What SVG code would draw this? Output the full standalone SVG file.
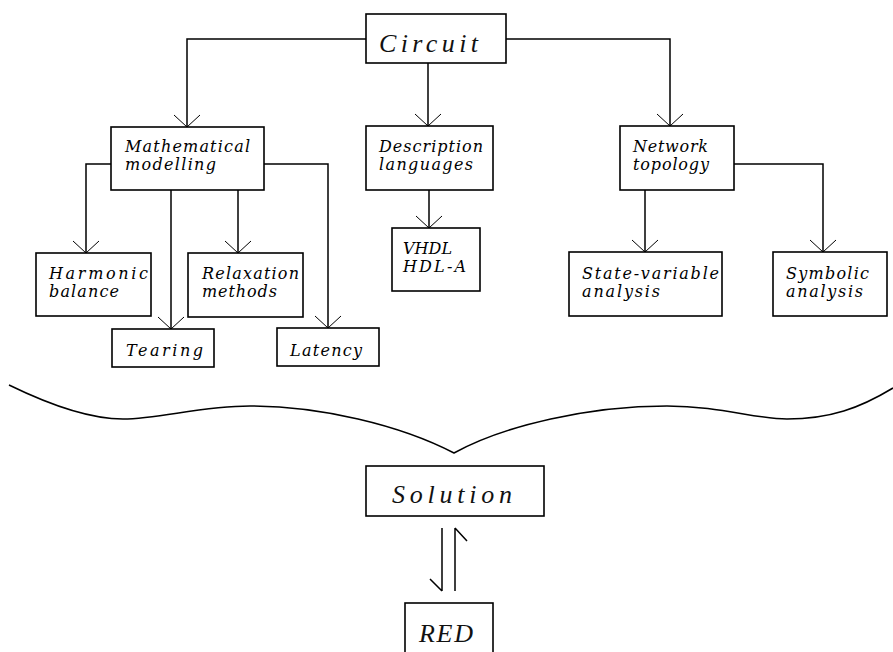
<svg xmlns="http://www.w3.org/2000/svg" width="893" height="652" viewBox="0 0 893 652">
<defs>
<style>
.box{fill:#fff;stroke:#000;stroke-width:1.6}
.ln{fill:none;stroke:#000;stroke-width:1.5}
.lbl{font-family:"DejaVu Serif","Liberation Serif",serif;font-style:italic;font-size:16px;fill:#000}
.big{font-family:"Liberation Serif","DejaVu Serif",serif;font-style:italic;font-size:26px;fill:#111}
</style>
<marker id="ah" markerUnits="userSpaceOnUse" markerWidth="30" markerHeight="30" viewBox="-14 -15 16 30" refX="0" refY="0" orient="auto" overflow="visible">
<path d="M-12,-13 L0,0 L-12,13" fill="none" stroke="#000" stroke-width="1"/>
</marker>
</defs>
<rect width="893" height="652" fill="#fff"/>
<g id="connectors">
<path class="ln" d="M366,39 H187 V127" marker-end="url(#ah)"/>
<path class="ln" d="M428,63 V126" marker-end="url(#ah)"/>
<path class="ln" d="M506,39 H670 V126" marker-end="url(#ah)"/>
<path class="ln" d="M111,164 H86 V253" marker-end="url(#ah)"/>
<path class="ln" d="M171,190 V329" marker-end="url(#ah)"/>
<path class="ln" d="M238,190 V253" marker-end="url(#ah)"/>
<path class="ln" d="M264,164 H328 V328" marker-end="url(#ah)"/>
<path class="ln" d="M429,190 V228" marker-end="url(#ah)"/>
<path class="ln" d="M645,190 V252" marker-end="url(#ah)"/>
<path class="ln" d="M734,164 H823 V252" marker-end="url(#ah)"/>
<path id="brace" class="ln" d="M9,385 C50,405 90,419 123,419 C160,419 200,406 250,406 C320,406 400,425 454,453 C505,425 590,406 667,406 C720,406 755,419 787,419 C830,419 860,408 893,388"/>
<path class="ln" d="M442,528 V591 M430,579 L442,591"/>
<path class="ln" d="M455,591 V528 M467,541 L455,528"/>
</g>
<g id="circuit">
<rect class="box" x="366" y="14" width="140" height="49"/>
<text class="big" x="379" y="52" textLength="99" lengthAdjust="spacing">Circuit</text>
</g>
<g id="math">
<rect class="box" x="111" y="127" width="153" height="63"/>
<text class="lbl" x="125" y="152" textLength="125" lengthAdjust="spacing">Mathematical</text>
<text class="lbl" x="125" y="170" textLength="91" lengthAdjust="spacing">modelling</text>
</g>
<g id="description">
<rect class="box" x="366" y="126" width="127" height="64"/>
<text class="lbl" x="379" y="152" textLength="104" lengthAdjust="spacing">Description</text>
<text class="lbl" x="379" y="170" textLength="94" lengthAdjust="spacing">languages</text>
</g>
<g id="network">
<rect class="box" x="620" y="126" width="114" height="64"/>
<text class="lbl" x="633" y="152" textLength="75" lengthAdjust="spacing">Network</text>
<text class="lbl" x="633" y="170" textLength="76" lengthAdjust="spacing">topology</text>
</g>
<g id="harmonic">
<rect class="box" x="36" y="253" width="115" height="63"/>
<text class="lbl" x="49" y="279" textLength="99" lengthAdjust="spacing">Harmonic</text>
<text class="lbl" x="49" y="297" textLength="70" lengthAdjust="spacing">balance</text>
</g>
<g id="relaxation">
<rect class="box" x="188" y="253" width="115" height="64"/>
<text class="lbl" x="202" y="279" textLength="97" lengthAdjust="spacing">Relaxation</text>
<text class="lbl" x="202" y="297" textLength="75" lengthAdjust="spacing">methods</text>
</g>
<g id="tearing">
<rect class="box" x="112" y="329" width="102" height="38"/>
<text class="lbl" x="126" y="356" textLength="77" lengthAdjust="spacing">Tearing</text>
</g>
<g id="latency">
<rect class="box" x="277" y="328" width="102" height="38"/>
<text class="lbl" x="290" y="356" textLength="72" lengthAdjust="spacing">Latency</text>
</g>
<g id="vhdl">
<rect class="box" x="392" y="228" width="88" height="63"/>
<text class="lbl" x="403" y="254" textLength="49" lengthAdjust="spacing">VHDL</text>
<text class="lbl" x="403" y="272" textLength="63" lengthAdjust="spacing">HDL-A</text>
</g>
<g id="state">
<rect class="box" x="569" y="252" width="153" height="64"/>
<text class="lbl" x="582" y="279" textLength="137" lengthAdjust="spacing">State-variable</text>
<text class="lbl" x="582" y="297" textLength="78" lengthAdjust="spacing">analysis</text>
</g>
<g id="symbolic">
<rect class="box" x="773" y="252" width="114" height="64"/>
<text class="lbl" x="786" y="279" textLength="83" lengthAdjust="spacing">Symbolic</text>
<text class="lbl" x="786" y="297" textLength="77" lengthAdjust="spacing">analysis</text>
</g>
<g id="solution">
<rect class="box" x="366" y="466" width="178" height="50"/>
<text class="big" x="392" y="503" textLength="120" lengthAdjust="spacing">Solution</text>
</g>
<g id="red">
<rect class="box" x="405" y="603" width="88" height="60"/>
<text class="big" x="419" y="642" textLength="54" lengthAdjust="spacing">RED</text>
</g>
</svg>
